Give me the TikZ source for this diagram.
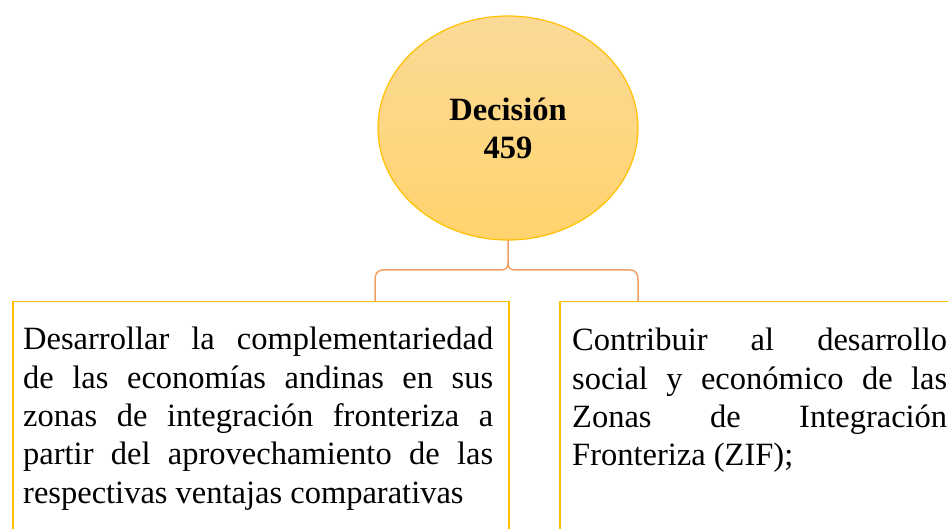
\documentclass[tikz,border=0pt]{standalone}
\usepackage{fontspec}
\setmainfont{Liberation Serif}
\usetikzlibrary{shapes.geometric}
\definecolor{gold}{HTML}{FFC000}
\definecolor{braceor}{HTML}{F0A064}
\definecolor{elltop}{HTML}{FBDA98}
\definecolor{ellbot}{HTML}{FFD36C}
\begin{document}
\begin{tikzpicture}[x=1pt,y=-1pt,
  boxst/.style={draw=gold, line width=1.5pt, inner sep=0pt},
  txt/.style={anchor=base west, inner sep=0pt, font=\fontsize{32.5}{38.3}\selectfont},
  bracest/.style={draw=braceor, line width=1.5pt, line join=round, line cap=round},
  ellst/.style={ellipse, draw=gold, line width=1.2pt, top color=elltop, bottom color=ellbot,
     minimum width=260pt, minimum height=224pt, inner sep=0pt, align=center,
     font=\fontsize{32.5}{38}\selectfont\bfseries}]
\useasboundingbox (0,0) rectangle (948,529);
% boxes
\node[boxst, anchor=north west, minimum width=496pt, minimum height=250pt] (lbox) at (12,301) {};
\node[boxst, anchor=north west, minimum width=420pt, minimum height=250pt] (rbox) at (559,301) {};
% ellipse
\node[ellst] (dec) at (508,128) {Decisión\\459};
% brace
\coordinate (tip) at (508,263);
\coordinate (bl) at (375,301);
\coordinate (br) at (638,301);
\draw[bracest] (dec.south) -- (tip)
  .. controls (508,268) and (510,270) .. (516,270) -- (630,270)
  .. controls (636,270) and (638,274) .. (638,280) -- (br);
\draw[bracest] (tip)
  .. controls (508,268) and (506,270) .. (500,270) -- (383,270)
  .. controls (377,270) and (375,274) .. (375,280) -- (bl);
% texts
\node[txt] (ltext) at (23,350) {\parbox[t]{470pt}{\hyphenpenalty10000\exhyphenpenalty10000
Desarrollar la complementariedad\linebreak de las economías andinas en sus\linebreak zonas de integración fronteriza a\linebreak partir del aprovechamiento de las\linebreak respectivas ventajas comparativas}};
\node[txt] (rtext) at (572,351) {\parbox[t]{375pt}{\hyphenpenalty10000\exhyphenpenalty10000
Contribuir al desarrollo\linebreak social y económico de las\linebreak Zonas de Integración\linebreak Fronteriza (ZIF);}};
\end{tikzpicture}
\end{document}
